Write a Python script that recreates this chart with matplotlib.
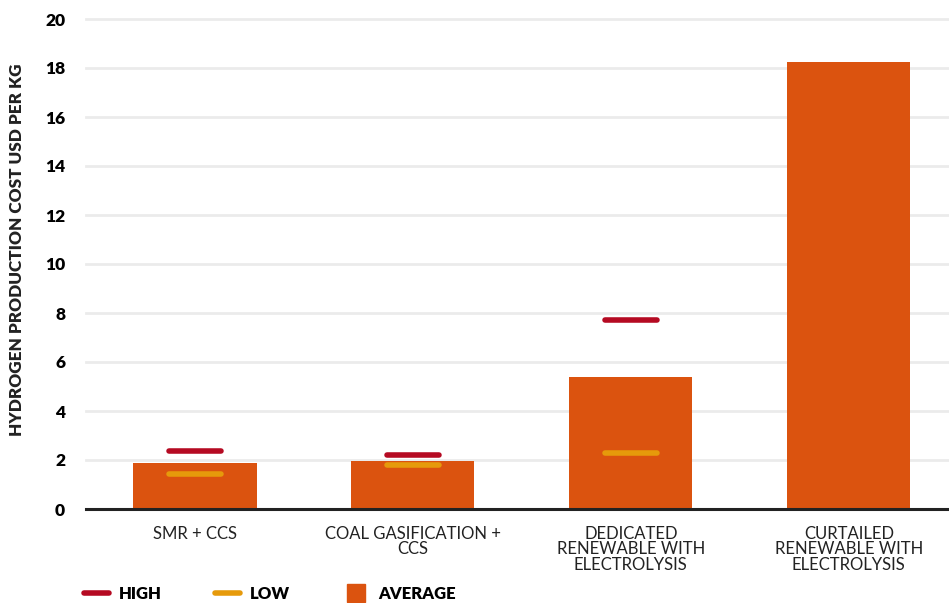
import matplotlib
matplotlib.use('Agg')
import matplotlib.pyplot as plt
from matplotlib.lines import Line2D

categories = ['SMR + CCS', 'COAL GASIFICATION +\nCCS',
              'DEDICATED\nRENEWABLE WITH\nELECTROLYSIS',
              'CURTAILED\nRENEWABLE WITH\nELECTROLYSIS']
average = [1.88, 1.96, 5.39, 18.24]
high = [2.37, 2.20, 7.70]
low = [1.43, 1.80, 2.27]
yticks = [0, 2, 4, 6, 8, 10, 12, 14, 16, 18, 20]

BAR = '#DB530F'
HIGH = '#B50A22'
LOW = '#E69A0B'

plt.rcParams['font.family'] = ['Lato', 'DejaVu Sans']

fig = plt.figure(figsize=(9.49, 6.03), dpi=100)
ax = fig.add_axes([86 / 949, 1 - 509 / 603, 1 - 86 / 949, (509 - 19) / 603])

xs = list(range(len(categories)))
ax.bar(xs, average, width=0.565, color=BAR, zorder=2)

hw = 0.12
for i, (h, l) in enumerate(zip(high, low)):
    ax.plot([i - hw, i + hw], [h, h], color=HIGH, lw=4, solid_capstyle='round', zorder=3)
    ax.plot([i - hw, i + hw], [l, l], color=LOW, lw=4, solid_capstyle='round', zorder=3)

ax.set_xlim(-0.5, 3.46)
ax.set_ylim(0, 20)
ax.set_yticks(yticks)
ax.set_yticklabels([str(t) for t in yticks], fontsize=12.5, fontweight='heavy')
ax.set_xticks(xs)
ax.set_xticklabels(categories, fontsize=12, color='#222222', linespacing=0.98)
ax.tick_params(axis='y', length=0, pad=15)
ax.tick_params(axis='x', length=0, pad=12)

for t in yticks[1:]:
    ax.axhline(t, color='#EBEBEB', lw=2, zorder=1, clip_on=False)
ax.axhline(0, color='#222222', lw=2.2, zorder=4, clip_on=False)

for s in ax.spines.values():
    s.set_visible(False)

fig.text(17 / 949, 1 - 250 / 603, 'HYDROGEN PRODUCTION COST USD PER KG',
         rotation=90, ha='center', va='center', fontsize=12.3, fontweight='heavy',
         color='#222222')

handles = [
    Line2D([], [], color=HIGH, lw=4, solid_capstyle='round'),
    Line2D([], [], color=LOW, lw=4, solid_capstyle='round'),
    Line2D([], [], color=BAR, marker='s', markersize=13, linestyle='none'),
]
leg = fig.legend(handles, ['HIGH', 'LOW', 'AVERAGE'], loc='center left',
                 bbox_to_anchor=(84 / 949, 1 - 594 / 603), ncol=3, frameon=False,
                 borderpad=0, borderaxespad=0, handlelength=1.5,
                 handletextpad=0.6, columnspacing=3.2,
                 prop={'weight': 'heavy', 'size': 12})

fig.savefig('out.png', dpi=100)
